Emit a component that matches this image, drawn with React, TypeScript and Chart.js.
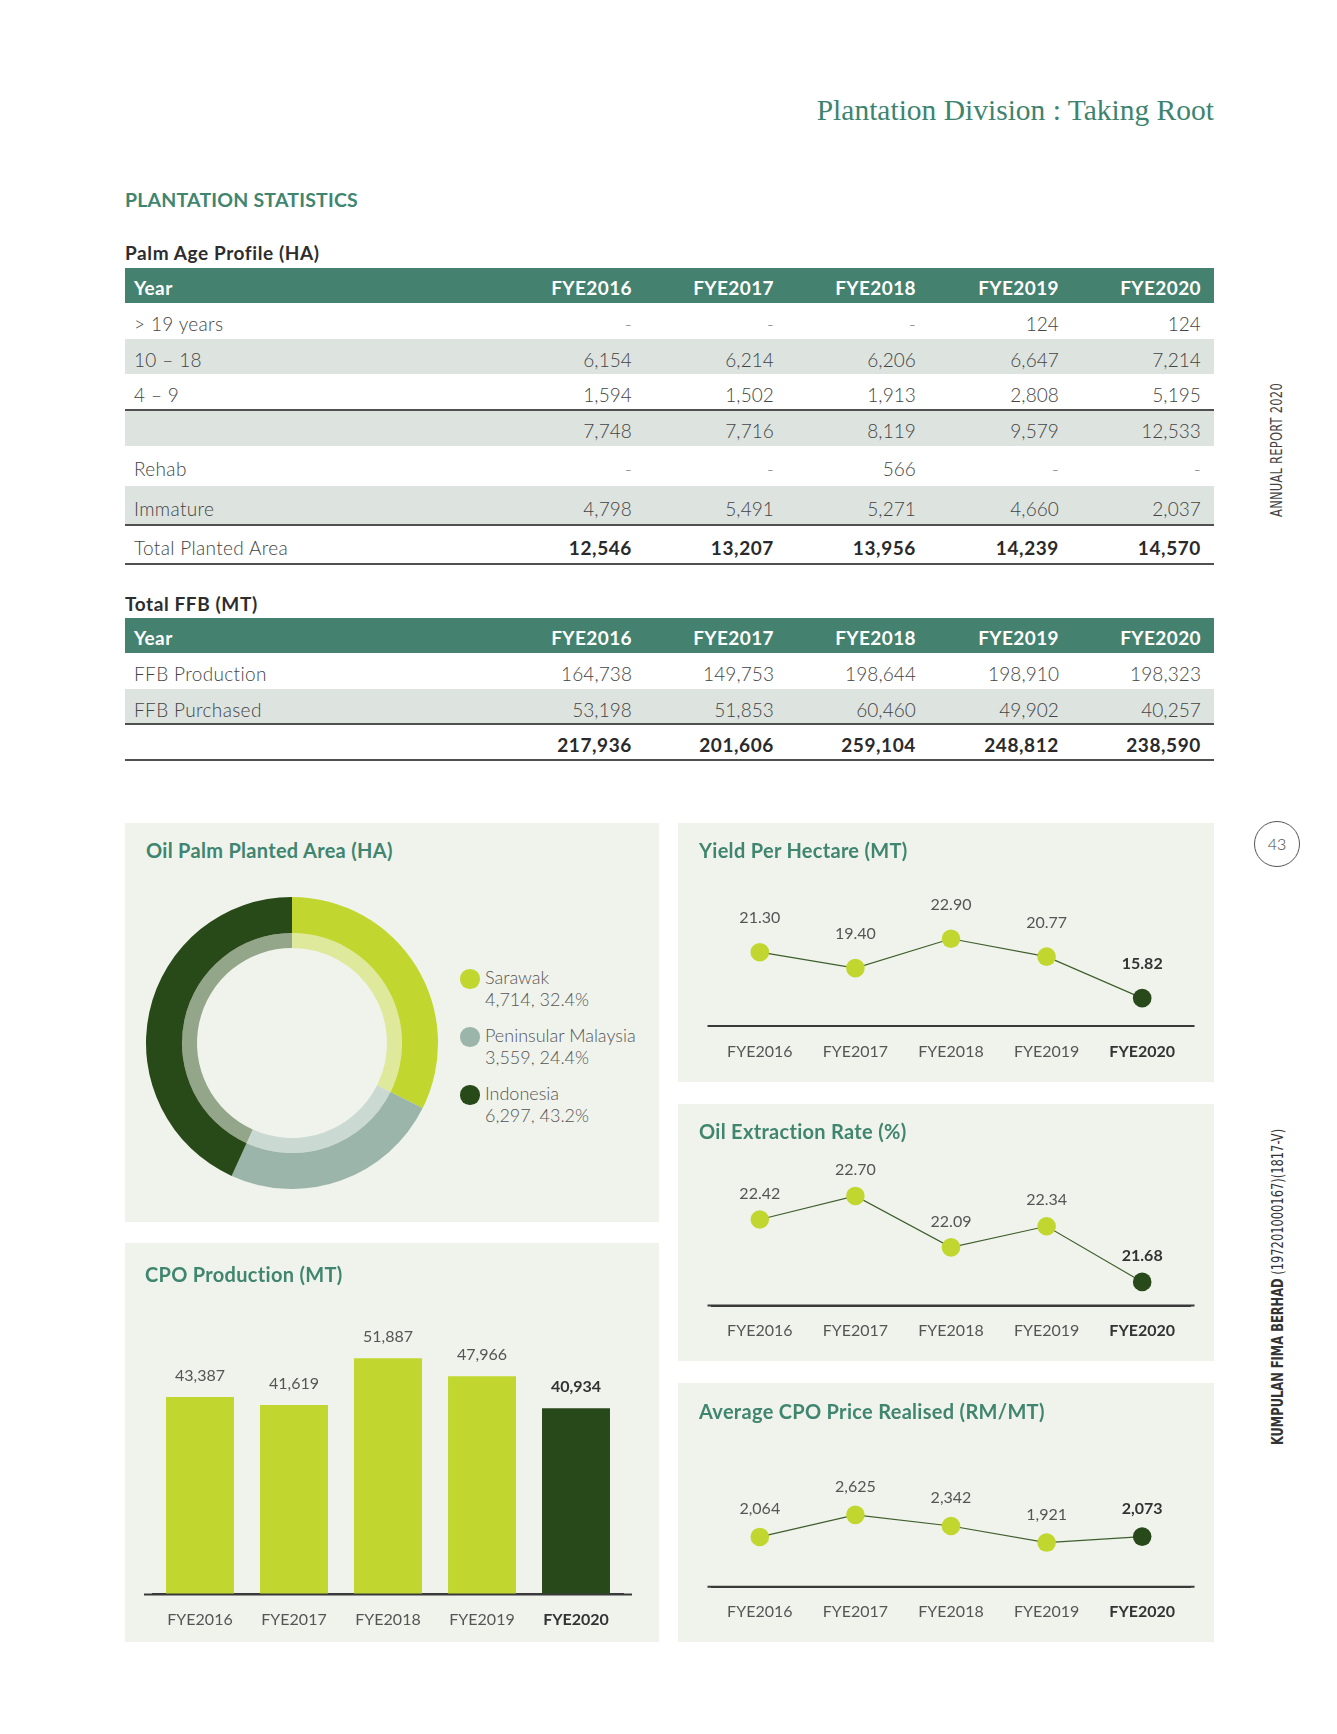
import React, { useEffect, useRef } from "react";
import { Chart, registerables } from "chart.js";

Chart.register(...registerables);

// ---------- DATA ----------
const years = ["FYE2016", "FYE2017", "FYE2018", "FYE2019", "FYE2020"];

// Palm Age Profile (HA)
const ageRowLabels = ["> 19 years", "10 – 18", "4 – 9", "", "Rehab", "Immature", "Total Planted Area"];
const ageOver19 = [null, null, null, 124, 124];
const age10to18 = [6154, 6214, 6206, 6647, 7214];
const age4to9 = [1594, 1502, 1913, 2808, 5195];
const matureSubtotal = [7748, 7716, 8119, 9579, 12533];
const rehab = [null, null, 566, null, null];
const immature = [4798, 5491, 5271, 4660, 2037];
const totalPlanted = [12546, 13207, 13956, 14239, 14570];

// Total FFB (MT)
const ffbRowLabels = ["FFB Production", "FFB Purchased", ""];
const ffbProduction = [164738, 149753, 198644, 198910, 198323];
const ffbPurchased = [53198, 51853, 60460, 49902, 40257];
const ffbTotal = [217936, 201606, 259104, 248812, 238590];

// Oil Palm Planted Area (HA)
const regions = ["Sarawak", "Peninsular Malaysia", "Indonesia"];
const regionArea = [4714, 3559, 6297];

// Line / bar charts
const yieldPerHectare = [21.3, 19.4, 22.9, 20.77, 15.82];
const oilExtractionRate = [22.42, 22.7, 22.09, 22.34, 21.68];
const avgCpoPrice = [2064, 2625, 2342, 1921, 2073];
const cpoProduction = [43387, 41619, 51887, 47966, 40934];

// ---------- STYLE ----------
const FONT = "Lato, 'Open Sans', sans-serif";
const LIME = "#c1d72f";
const DARK = "#28491a";
const LINE = "#3e5e2c";
const AXIS = "#3a3a3a";
const TITLE_GREEN = "#3f8570";
const HEADER_BG = "#44826f";
const ROW_GRAY = "#dde3df";
const PANEL_BG = "#f0f3ec";
const OUTER_COLORS = [LIME, "#9bb5aa", "#284918"];
const INNER_COLORS = ["#dfe99b", "#cbd9d3", "#93a68a"];
const COL_RIGHT = [632, 774, 916, 1059, 1201];

const fmtInt = (v: number) => v.toLocaleString("en-US");
const fmt2 = (v: number) => v.toFixed(2);
const cell = (v: number | null) => (v == null ? "-" : fmtInt(v));

function makeValueLabels(format: (v: number) => string, offset: number) {
  return {
    id: "valueLabels",
    afterDatasetsDraw(chart: any) {
      const ctx = chart.ctx;
      const meta = chart.getDatasetMeta(0);
      const data = chart.data.datasets[0].data as number[];
      ctx.save();
      ctx.textAlign = "center";
      ctx.textBaseline = "middle";
      meta.data.forEach((el: any, i: number) => {
        const last = i === meta.data.length - 1;
        ctx.font = `${last ? "bold " : ""}16px ${FONT}`;
        ctx.fillStyle = last ? "#333333" : "#555555";
        ctx.fillText(format(data[i]), el.x, el.y - offset);
      });
      ctx.restore();
    },
  };
}

// extends the x-axis base line a little past the plot area, as in the print layout
function makeAxisLine(ext: number) {
  return {
    id: "axisLine",
    afterDatasetsDraw(chart: any) {
      const { ctx, chartArea } = chart;
      ctx.save();
      ctx.strokeStyle = AXIS;
      ctx.lineWidth = 2;
      ctx.beginPath();
      ctx.moveTo(chartArea.left - ext, chartArea.bottom);
      ctx.lineTo(chartArea.right + ext, chartArea.bottom);
      ctx.stroke();
      ctx.restore();
    },
  };
}

function xAxis(extra: any = {}) {
  return {
    offset: true,
    grid: { display: false, drawTicks: false },
    border: { display: true, color: AXIS, width: 2 },
    ticks: {
      padding: 16,
      autoSkip: false,
      maxRotation: 0,
      font: (c: any) => ({ family: FONT, size: 16, weight: c.index === years.length - 1 ? "bold" : "normal" }),
      color: (c: any) => (c.index === years.length - 1 ? "#333333" : "#555555"),
    },
    ...extra,
  };
}

function lineConfig(values: number[], format: (v: number) => string, min: number, max: number, padTop: number, padBottom: number, offset: number) {
  return {
    type: "line",
    data: {
      labels: years,
      datasets: [
        {
          data: values,
          borderColor: LINE,
          borderWidth: 1.2,
          pointRadius: 9.3,
          pointHoverRadius: 9.3,
          pointBorderWidth: 0,
          pointBackgroundColor: values.map((_, i) => (i === values.length - 1 ? DARK : LIME)),
          tension: 0,
          fill: false,
          clip: false,
        },
      ],
    },
    options: {
      responsive: false,
      animation: false,
      events: [],
      layout: { padding: { left: 34, right: 24, top: padTop, bottom: padBottom } },
      plugins: { legend: { display: false }, tooltip: { enabled: false } },
      scales: {
        x: xAxis(),
        y: { display: false, min, max },
      },
    },
    plugins: [makeAxisLine(4.5), makeValueLabels(format, offset)],
  };
}

const yieldConfig = lineConfig(yieldPerHectare, fmt2, 12.5, 30, 56.2, 24.8, 34);
const oerConfig = lineConfig(oilExtractionRate, fmt2, 21.4, 23.2, 49.8, 24.3, 26);
const priceConfig = lineConfig(avgCpoPrice, fmtInt, 800, 3000, 117.1, 24.1, 28);

const barConfig = {
  type: "bar",
  data: {
    labels: years,
    datasets: [
      {
        data: cpoProduction,
        backgroundColor: cpoProduction.map((_, i) => (i === cpoProduction.length - 1 ? DARK : LIME)),
        borderWidth: 0,
        barPercentage: 0.723,
        categoryPercentage: 1,
      },
    ],
  },
  options: {
    responsive: false,
    animation: false,
    events: [],
    layout: { padding: { left: 28, right: 36, top: 78.4, bottom: 16.4 } },
    plugins: { legend: { display: false }, tooltip: { enabled: false } },
    scales: {
      x: xAxis({ z: 1 }),
      y: { display: false, min: 0, max: 60000 },
    },
  },
  plugins: [makeAxisLine(9), makeValueLabels(fmtInt, 21)],
};

const donutConfig = {
  type: "doughnut",
  data: {
    labels: regions,
    datasets: [
      { data: regionArea, backgroundColor: OUTER_COLORS, weight: 36, borderWidth: 0, hoverBorderWidth: 0, hoverOffset: 0, offset: 0 },
      { data: regionArea, backgroundColor: INNER_COLORS, weight: 15, borderWidth: 0, hoverBorderWidth: 0, hoverOffset: 0, offset: 0 },
    ],
  },
  options: {
    responsive: false,
    animation: false,
    events: [],
    cutout: 95,
    spacing: 0,
    plugins: { legend: { display: false }, tooltip: { enabled: false } },
  },
};

// ---------- COMPONENTS ----------
function ChartBox({ config, left, top, width, height }: any) {
  const ref = useRef<HTMLCanvasElement>(null);
  useEffect(() => {
    const chart = new Chart(ref.current as HTMLCanvasElement, config as any);
    return () => chart.destroy();
  }, []);
  return (
    <canvas
      ref={ref}
      width={width}
      height={height}
      style={{ position: "absolute", left, top, width, height }}
    />
  );
}

const abs = (s: any) => ({ position: "absolute" as const, ...s });

function Text({ x, cy, size, lh, children, style }: any) {
  const L = lh ?? Math.round(size * 1.3);
  return (
    <div style={abs({ left: x, top: cy - L / 2, fontSize: size, lineHeight: `${L}px`, whiteSpace: "nowrap", ...style })}>
      {children}
    </div>
  );
}

function Row({ top, height, label, values, bg, bold, header }: any) {
  const color = header ? "#ffffff" : "#444444";
  const shift = header ? 2 : 2.5;
  return (
    <div style={abs({ left: 125, top, width: 1089, height, background: bg })}>
      <div
        style={abs({
          left: 9,
          top: shift,
          lineHeight: `${height}px`,
          fontSize: 19,
          color,
          fontWeight: header ? 700 : 300,
          letterSpacing: header ? 0.4 : 0.35,
          whiteSpace: "nowrap",
        })}
      >
        {label}
      </div>
      {values.map((v: string, i: number) => (
        <div
          key={i}
          style={abs({
            right: 1214 - COL_RIGHT[i],
            top: shift,
            lineHeight: `${height}px`,
            fontSize: 19,
            color: header ? "#ffffff" : bold ? "#2a2a2a" : v === "-" ? "#888888" : "#444444",
            fontWeight: header || bold ? 700 : 300,
            letterSpacing: header ? 0.4 : bold ? 0.6 : 0.1,
            whiteSpace: "nowrap",
          })}
        >
          {v}
        </div>
      ))}
    </div>
  );
}

function HLine({ top }: any) {
  return <div style={abs({ left: 125, top: top - 1, width: 1089, height: 2, background: "#505050" })} />;
}

function PanelTitle({ x, cy, children }: any) {
  return (
    <Text x={x} cy={cy} size={20} style={{ color: TITLE_GREEN, fontWeight: 700, letterSpacing: 0.3, zIndex: 2 }}>
      {children}
    </Text>
  );
}

export default function App() {
  const ageRows = [ageOver19, age10to18, age4to9, matureSubtotal, rehab, immature, totalPlanted];
  const ageTops = [303, 339, 374, 410, 446, 486, 525];
  const ageBottoms = [339, 374, 410, 446, 486, 525, 564];
  const ageGray = [false, true, false, true, false, true, false];

  const ffbRows = [ffbProduction, ffbPurchased, ffbTotal];
  const ffbTops = [653, 689, 724];
  const ffbBottoms = [689, 724, 760];
  const ffbGray = [false, true, false];

  const total = regionArea.reduce((a, b) => a + b, 0);
  const legendY = [977, 1035, 1093];

  return (
    <div style={abs({ left: 0, top: 0, width: 1337, height: 1734, background: "#ffffff", fontFamily: FONT, overflow: "hidden" })}>
      {/* Page header */}
      <div
        style={abs({
          right: 1337 - 1214,
          top: 91.5,
          fontFamily: "'Liberation Serif', 'DejaVu Serif', serif",
          fontSize: 29.5,
          lineHeight: "36px",
          color: "#3d8470",
          whiteSpace: "nowrap",
        })}
      >
        Plantation Division : Taking Root
      </div>

      <Text x={125} cy={199} size={19.5} style={{ color: TITLE_GREEN, fontWeight: 700, letterSpacing: 0.2 }}>
        PLANTATION STATISTICS
      </Text>

      {/* Palm Age Profile */}
      <Text x={125} cy={252} size={19} style={{ color: "#2d2d2d", fontWeight: 700, letterSpacing: 0.6 }}>
        Palm Age Profile (HA)
      </Text>
      <Row top={268} height={35} label="Year" values={years} bg={HEADER_BG} header />
      {ageRows.map((vals, r) => (
        <Row
          key={r}
          top={ageTops[r]}
          height={ageBottoms[r] - ageTops[r]}
          label={ageRowLabels[r]}
          values={vals.map(cell)}
          bg={ageGray[r] ? ROW_GRAY : "#ffffff"}
          bold={r === ageRows.length - 1}
        />
      ))}
      <HLine top={410} />
      <HLine top={525} />
      <HLine top={564} />

      {/* Total FFB */}
      <Text x={125} cy={603} size={19} style={{ color: "#2d2d2d", fontWeight: 700, letterSpacing: 0.6 }}>
        Total FFB (MT)
      </Text>
      <Row top={618} height={35} label="Year" values={years} bg={HEADER_BG} header />
      {ffbRows.map((vals, r) => (
        <Row
          key={r}
          top={ffbTops[r]}
          height={ffbBottoms[r] - ffbTops[r]}
          label={ffbRowLabels[r]}
          values={vals.map(cell)}
          bg={ffbGray[r] ? ROW_GRAY : "#ffffff"}
          bold={r === ffbRows.length - 1}
        />
      ))}
      <HLine top={724} />
      <HLine top={760} />

      {/* Panels */}
      <div style={abs({ left: 125, top: 823, width: 534, height: 399, background: PANEL_BG })} />
      <div style={abs({ left: 125, top: 1243, width: 534, height: 399, background: PANEL_BG })} />
      <div style={abs({ left: 678, top: 823, width: 536, height: 259, background: PANEL_BG })} />
      <div style={abs({ left: 678, top: 1104, width: 536, height: 257, background: PANEL_BG })} />
      <div style={abs({ left: 678, top: 1383, width: 536, height: 259, background: PANEL_BG })} />

      {/* Donut */}
      <PanelTitle x={146} cy={850}>Oil Palm Planted Area (HA)</PanelTitle>
      <ChartBox config={donutConfig} left={146} top={897} width={292} height={292} />
      {regions.map((name, i) => (
        <React.Fragment key={name}>
          <div
            style={abs({
              left: 470 - 9.7,
              top: legendY[i] + 2 - 9.7,
              width: 19.4,
              height: 19.4,
              borderRadius: "50%",
              background: OUTER_COLORS[i],
            })}
          />
          <Text x={485} cy={legendY[i]} size={18} lh={22} style={{ color: "#555555", fontWeight: 300 }}>
            {name}
          </Text>
          <Text x={485} cy={legendY[i] + 21.5} size={18} lh={22} style={{ color: "#555555", fontWeight: 300 }}>
            {`${fmtInt(regionArea[i])}, ${((regionArea[i] / total) * 100).toFixed(1)}%`}
          </Text>
        </React.Fragment>
      ))}

      {/* Yield */}
      <ChartBox config={yieldConfig} left={678} top={823} width={536} height={279} />
      <PanelTitle x={699} cy={850}>Yield Per Hectare (MT)</PanelTitle>

      {/* OER */}
      <ChartBox config={oerConfig} left={678} top={1104} width={536} height={277} />
      <PanelTitle x={699} cy={1131}>Oil Extraction Rate (%)</PanelTitle>

      {/* Avg CPO price */}
      <ChartBox config={priceConfig} left={678} top={1383} width={536} height={279} />
      <PanelTitle x={699} cy={1411}>Average CPO Price Realised (RM/MT)</PanelTitle>

      {/* CPO production */}
      <ChartBox config={barConfig} left={125} top={1243} width={534} height={419} />
      <PanelTitle x={145} cy={1274}>CPO Production (MT)</PanelTitle>

      {/* Side decorations */}
      <div
        style={abs({
          left: 1277,
          top: 450,
          transform: "translate(-50%, -50%) rotate(-90deg) scaleX(0.85)",
          whiteSpace: "nowrap",
          fontFamily: "'DejaVu Sans Condensed', 'Liberation Sans Narrow', sans-serif",
          fontSize: 15,
          color: "#444444",
          letterSpacing: 0.3,
        })}
      >
        ANNUAL REPORT 2020
      </div>
      <div
        style={abs({
          left: 1277 - 23,
          top: 844 - 23,
          width: 44,
          height: 44,
          border: "1px solid #555555",
          borderRadius: "50%",
          textAlign: "center",
          lineHeight: "44px",
          fontSize: 16,
          color: "#444444",
          fontWeight: 300,
        })}
      >
        43
      </div>
      <div
        style={abs({
          left: 1278,
          top: 1287,
          transform: "translate(-50%, -50%) rotate(-90deg) scaleX(0.85)",
          whiteSpace: "nowrap",
          fontFamily: "'DejaVu Sans Condensed', 'Liberation Sans Narrow', sans-serif",
          fontSize: 15,
          color: "#333333",
        })}
      >
        <b>KUMPULAN FIMA BERHAD</b> (197201000167)(1817-V)
      </div>
    </div>
  );
}
